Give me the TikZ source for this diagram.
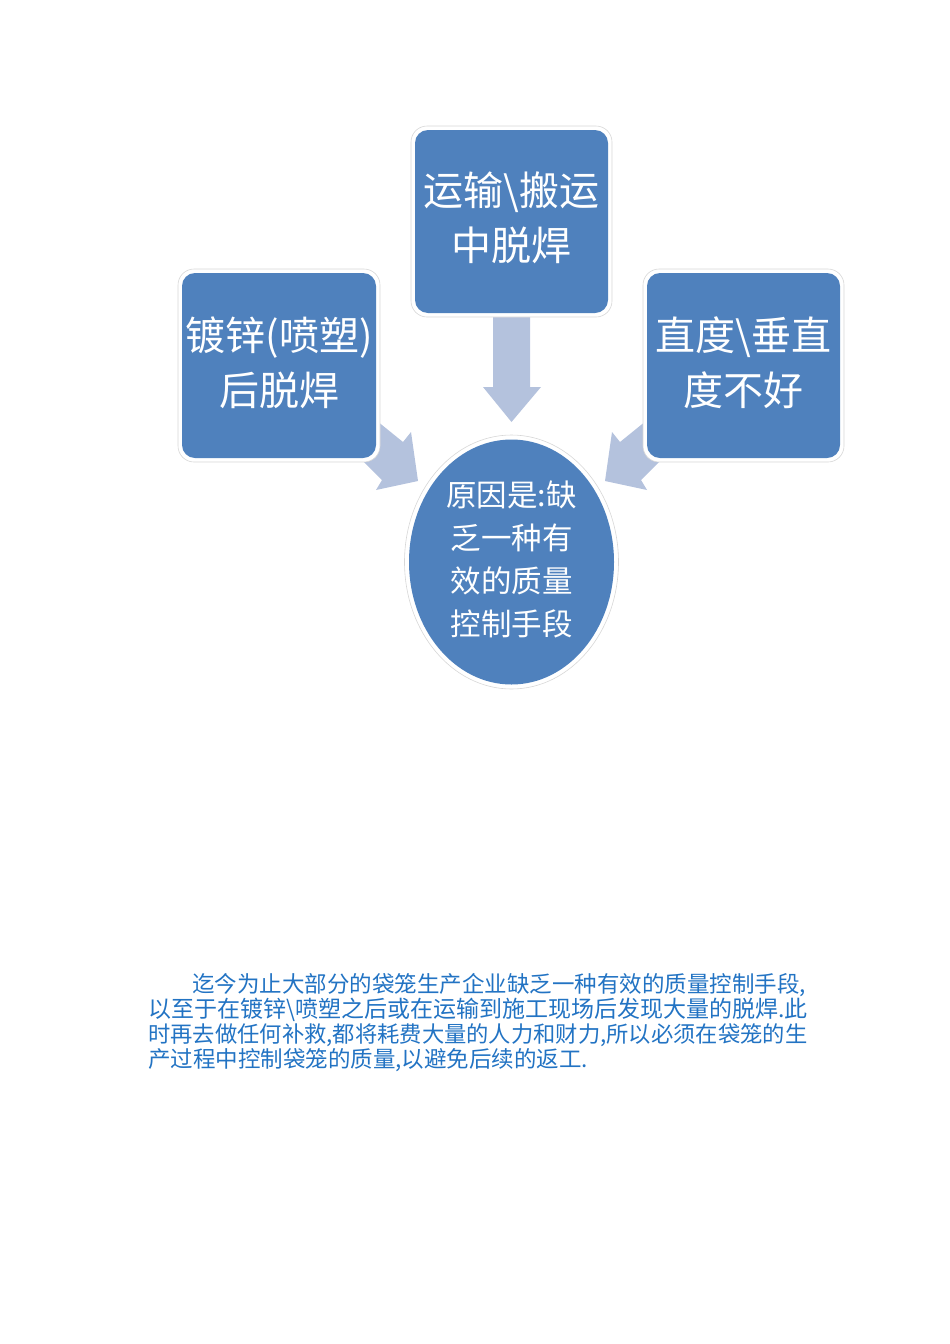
\documentclass[tikz,border=0pt]{standalone}
\usepackage{fontspec}
\setmainfont{Noto Sans CJK SC}
\newfontfamily\cjk{Noto Sans CJK SC}
\definecolor{boxblue}{RGB}{79,129,189}
\definecolor{arrowblue}{RGB}{180,194,221}
\definecolor{textblue}{RGB}{34,115,195}
\definecolor{rimgray}{RGB}{215,215,215}
\begin{document}
\begin{tikzpicture}[x=1pt,y=-1pt,
  rim/.style={draw=rimgray,line width=0.6pt,fill=white,rounded corners=16pt},
  boxfill/.style={fill=boxblue,rounded corners=13pt},
  boxtext/.style={text=white,align=center,font=\cjk\fontsize{40}{55}\selectfont},
  elltext/.style={text=white,align=center,font=\cjk\fontsize{30.5}{43}\selectfont},
  arrowshape/.style={fill=arrowblue},
  para/.style={text=textblue,anchor=west,inner sep=0pt,font=\cjk\fontsize{22.5}{25}\selectfont}]
\useasboundingbox (0,0) rectangle (950,1344);
% arrows (behind boxes)
\fill[arrowshape] (493,316) -- (530,316) -- (530,387) -- (541,387) -- (511.5,422) -- (483,387) -- (493,387) -- cycle;
\fill[arrowshape] (340,391) -- (403,442) -- (411,432) -- (418,481) -- (376,490) -- (382,480) -- (330,428) -- cycle;
\fill[arrowshape] (683,391) -- (620,442) -- (612,432) -- (605,481) -- (647,490) -- (641,480) -- (693,428) -- cycle;
% top box
\draw[rim] (411,126) rectangle (612,317);
\fill[boxfill] (415,130) rectangle (608,313);
\node[boxtext] (top) at (511.5,218) {运输\textbackslash 搬运\\中脱焊};
% left box
\draw[rim] (178,269) rectangle (380,462);
\fill[boxfill] (182,273) rectangle (376,458);
\node[boxtext] (left) at (279,363) {镀锌(喷塑)\\后脱焊};
% right box
\draw[rim] (643,269) rectangle (844,462);
\fill[boxfill] (647,273) rectangle (840,458);
\node[boxtext] (right) at (743.5,363) {直度\textbackslash 垂直\\度不好};
% ellipse
\draw[draw=rimgray,line width=0.6pt,fill=white] (511.5,562) ellipse [x radius=107, y radius=127];
\fill[boxblue] (511.5,562) ellipse [x radius=102.5, y radius=122.5];
\node[elltext] (center) at (511.5,559) {原因是:缺\\乏一种有\\效的质量\\控制手段};
% paragraph
\node[para] (p1) at (192,985) {迄今为止大部分的袋笼生产企业缺乏一种有效的质量控制手段,};
\node[para] (p2) at (148,1010) {\fontsize{23}{25}\selectfont 以至于在镀锌\textbackslash 喷塑之后或在运输到施工现场后发现大量的脱焊.此};
\node[para] (p3) at (148,1035) {\fontsize{22.3}{25}\selectfont 时再去做任何补救,都将耗费大量的人力和财力,所以必须在袋笼的生};
\node[para] (p4) at (148,1060) {产过程中控制袋笼的质量,以避免后续的返工.};
\end{tikzpicture}
\end{document}
